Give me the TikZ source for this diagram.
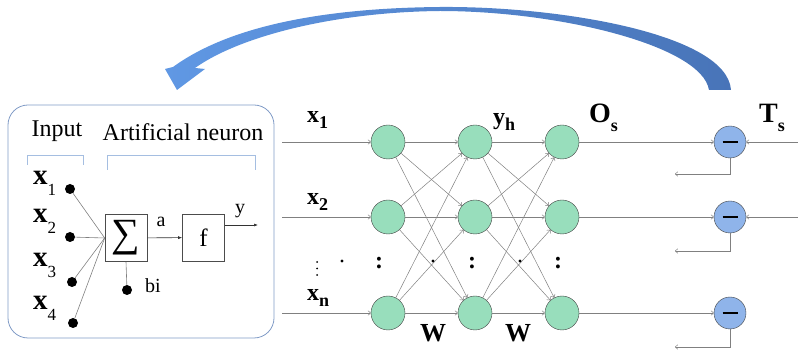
\documentclass[tikz,border=0pt]{standalone}
\usepackage{fontspec}
\setmainfont{Liberation Serif}
\usepackage{tikz}
\usetikzlibrary{calc,arrows.meta,positioning}
\definecolor{nodegreen}{RGB}{152,222,188}
\definecolor{nodeblue}{RGB}{143,180,234}
\definecolor{boxblue}{RGB}{128,155,198}
\definecolor{bracketblue}{RGB}{165,190,225}
\definecolor{arcleft}{RGB}{96,152,228}
\definecolor{arcright}{RGB}{72,116,184}
\definecolor{linegray}{RGB}{128,128,128}
% bold letter with a lowered subscript: letter, index, index size, drop
\newcommand{\inlbl}[2]{\textbf{#1}\raisebox{-11pt}{\fontsize{17}{17}\selectfont #2}}
\newcommand{\netlbl}[4]{\textbf{#1}\raisebox{-#4}{\fontsize{#3}{#3}\selectfont\textbf{#2}}}

\begin{document}
\begin{tikzpicture}[x=1pt, y=-1pt,
    neuron/.style={circle, draw=black!75, fill=nodegreen, minimum size=34pt, inner sep=0pt},
    errnode/.style={circle, draw=black!75, fill=nodeblue, minimum size=32pt, inner sep=0pt},
    link/.style={draw=linegray, line width=0.5pt, -{To[length=3pt,width=5pt]}},
    wire/.style={draw=linegray, line width=0.6pt},
    pin/.style={circle, fill=black, minimum size=10pt, inner sep=0pt},
    opbox/.style={draw=black!70, line width=0.6pt, minimum width=42pt, minimum height=47pt, inner sep=0pt},
    txt/.style={inner sep=0pt, font=\fontsize{23}{23}\selectfont},
    small/.style={inner sep=0pt, font=\fontsize{20}{20}\selectfont}]
  \useasboundingbox (0,0) rectangle (798,352);

  % feedback arc
  \shade[left color=arcleft, right color=arcright]
    (173,67) .. controls (232,24) and (330,8) .. (440,7)
    .. controls (560,6) and (727,34) .. (731,90)
    -- (709,90) .. controls (702,46) and (560,11) .. (440,11)
    .. controls (335,12) and (240,36) .. (195,68)
    -- (205,69) -- (177,90) -- (165,69) -- cycle;

  % artificial neuron box
  \draw[boxblue, line width=0.8pt, rounded corners=20pt] (8,105) rectangle (274,338);
  \node[txt, font=\fontsize{24}{24}\selectfont] (inputlbl) at (57,131) {Input};
  \node[txt, font=\fontsize{24}{24}\selectfont] (neuronlbl) at (183,132) {Artificial neuron};
  \draw[bracketblue, line width=0.8pt] (27,165) -- (27,155) -- (83,155) -- (83,165);
  \draw[bracketblue, line width=0.8pt] (107,170) -- (107,155) -- (255,155) -- (255,170);

  \node[txt, font=\fontsize{29}{29}\selectfont, anchor=base west] (lx1) at (33,185) {\inlbl{x}{1}};
  \node[txt, font=\fontsize{29}{29}\selectfont, anchor=base west] (lx2) at (33,223) {\inlbl{x}{2}};
  \node[txt, font=\fontsize{29}{29}\selectfont, anchor=base west] (lx3) at (33,267) {\inlbl{x}{3}};
  \node[txt, font=\fontsize{29}{29}\selectfont, anchor=base west] (lx4) at (33,310) {\inlbl{x}{4}};
  \node[pin] (p1) at (70,189) {};
  \node[pin] (p2) at (70,237) {};
  \node[pin] (p3) at (72,282) {};
  \node[pin] (p4) at (73,323) {};
  \node[opbox] (sumbox) at (126,238) {\fontsize{40}{40}\selectfont ∑};
  \node[opbox] (actbox) at (203.5,237.5) {\fontsize{25}{25}\selectfont f};
  \node[pin] (pb) at (127,290) {};
  \node[small] (bilbl) at (153,286) {bi};
  \node[small] (albl) at (161,222) {a};
  \node[small] (ylbl) at (240,211) {y};
  \coordinate (yout) at (258,225);
  \foreach \i in {1,...,4}
    \draw[wire] (p\i) -- (sumbox.west);
  \draw[wire] (pb) -- (sumbox.south);
  \draw[black!80, line width=0.6pt, -{Latex[length=4pt,width=3pt]}] (sumbox) -- (actbox);
  \draw[black!80, line width=0.6pt, -{Latex[length=4pt,width=3pt]}] (actbox.east |- yout) -- (yout);

  % network
  \foreach \i/\y in {1/142, 2/217, 3/313} {
    \coordinate (s\i) at (282,\y);
    \node[neuron] (a\i) at (388,\y) {};
    \node[neuron] (b\i) at (475,\y) {};
    \node[neuron] (c\i) at (562,\y) {};
    \node[errnode] (e\i) at (730,\y) {\rule{15pt}{1.4pt}};
  }
  \foreach \i in {1,2,3} {
    \draw[link] (s\i) -- (a\i);
    \foreach \j in {1,2,3} {
      \draw[link] (a\i) -- (b\j);
      \draw[link] (b\i) -- (c\j);
    }
    \draw[link] (c\i) -- (e\i);
  }
  % targets and errors
  \coordinate (t1) at (798,142);
  \coordinate (t2) at (798,217);
  \draw[link] (t1) -- (e1);
  \draw[link] (t2) -- (e2);
  \foreach \i/\y in {1/174, 2/251, 3/347} {
    \coordinate (f\i) at (675,\y);
    \draw[link] (e\i.south) |- (f\i);
  }

  % labels
  \node[txt, font=\fontsize{24}{24}\selectfont, anchor=base west] (nx1) at (307,123) {\netlbl{x}{1}{18}{6pt}};
  \node[txt, font=\fontsize{24}{24}\selectfont, anchor=base west] (nx2) at (307,205) {\netlbl{x}{2}{18}{6pt}};
  \node[txt, font=\fontsize{24}{24}\selectfont, anchor=base west] (nxn) at (307,301) {\netlbl{x}{n}{18}{6pt}};
  \node[txt, font=\fontsize{24}{24}\selectfont, anchor=base west] (yh) at (493,125) {\netlbl{y}{h}{18}{6pt}};
  \node[inner sep=0pt, font=\fontsize{28}{28}\selectfont, anchor=base west] (os) at (589,123) {\netlbl{O}{s}{18}{9pt}};
  \node[inner sep=0pt, font=\fontsize{28}{28}\selectfont, anchor=base west] (ts) at (759,123) {\netlbl{T}{s}{18}{9pt}};
  \node[inner sep=0pt, font=\fontsize{26}{26}\selectfont\bfseries] (w1) at (433,333) {W};
  \node[inner sep=0pt, font=\fontsize{26}{26}\selectfont\bfseries] (w2) at (518,333) {W};
  \foreach \x/\n in {379/k1, 472/k2, 558/k3}
    \node[inner sep=0pt, font=\fontsize{24}{24}\selectfont\bfseries] (\n) at (\x,263) {:};
  % loose dots
  \foreach \y in {262, 268.5, 275}
    \fill (317,\y) circle (1pt);
  \foreach \x in {342, 433, 520}
    \fill (\x,261) circle (1.7pt);
\end{tikzpicture}
\end{document}
